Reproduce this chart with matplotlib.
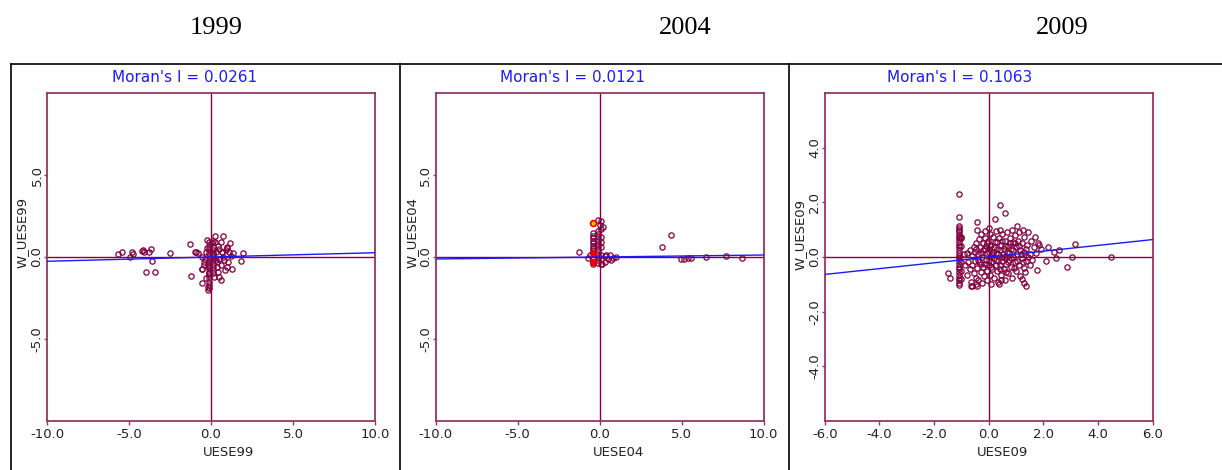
import matplotlib.pyplot as plt
from matplotlib.lines import Line2D

plt.rcParams['axes.unicode_minus'] = False

years = ['1999', '2004', '2009']
moran_i = [0.0261, 0.0121, 0.1063]
x_names = ['UESE99', 'UESE04', 'UESE09']
y_names = ['W_UESE99', 'W_UESE04', 'W_UESE09']

# 1999 standardized values and their spatial lags
x99 = [-5.65, -5.41, -4.94, -4.80, -4.78, -4.23, -4.13, -4.07, -3.76, -3.68,
       -3.60, -3.98, -3.43, -2.48, -1.28, -1.22, -0.93, -0.57, -0.57, -0.98,
       -0.77, -0.57, -0.57, -0.43, -0.30, -0.26, -0.26, -0.16, -0.16, -0.10,
       -0.10, 0.04, 0.14, 0.24, 0.30, 0.39, 0.45, 0.51, 0.59, 0.71,
       0.75, 0.85, 0.96, 1.06, 1.16, 1.26, 1.36, 1.81, 1.97, 0.96,
       0.65, -0.06,
       -0.10, -0.10, -0.10, -0.10, -0.10, -0.10, -0.10, -0.10, -0.10, -0.10,
       -0.10, -0.10, -0.10, -0.10, -0.10,
       0.10, 0.10, 0.10, 0.10, 0.10, 0.10, 0.10, 0.10, 0.10,
       0.30, 0.35, 0.50, 0.50, 0.60, 0.70, 0.80, 0.90, 0.40, 0.20,
       -0.30, -0.35, -0.40, 0.60, 1.10, 1.20, 1.00, 0.25, -0.20, 0.15]
y99 = [0.16, 0.32, -0.02, 0.32, 0.16, 0.37, 0.43, 0.28, 0.28, 0.49,
       -0.24, -0.89, -0.89, 0.22, 0.79, -1.14, 0.32, -0.73, -1.61, 0.28,
       0.22, 0.02, -0.73, -0.28, -1.30, 0.53, 1.04, -1.81, -2.00, -0.59,
       -1.00, 0.83, 0.22, 1.28, -0.18, -0.59, 0.67, -1.20, -1.40, 1.28,
       0.02, -0.79, 0.63, -0.28, 0.83, -0.75, 0.22, -0.24, 0.22, -0.59,
       0.33, -0.08,
       0.90, 0.70, 0.50, 0.30, 0.10, -0.10, -0.30, -0.50, -0.70, -0.90,
       -1.10, -1.30, -1.50, -1.70, -1.90,
       0.60, 0.40, 0.20, 0.00, -0.20, -0.40, -0.60, -0.80, -1.00,
       0.30, -0.30, 0.50, -0.10, -0.50, 0.30, -0.20, 0.40, -0.90, -1.20,
       0.30, -0.10, -0.50, 0.90, 0.30, 0.05, 0.55, 0.90, -0.50, 1.00]

# 2004
x04 = [-0.10, 0.10, 0.20, 0.00,
       -0.41, -0.41, -0.41, -0.41, -0.41, -0.41, -0.41, -0.41, -0.41, -0.41,
       -0.10, -0.10, -0.10, -0.10, -0.10, -0.10, -0.10, -0.10, -0.10, -0.10,
       -0.10,
       0.10, 0.10, 0.10, 0.10, 0.10, 0.10, 0.10,
       0.30, 0.41, 0.50, 0.60, 0.71, 0.80, 1.02, 0.30, -0.60, -0.70, 0.15,
       -1.28, 3.82, 4.37, 4.94, 5.14, 5.39, 5.59, 6.50, 7.72, 8.68]
y04 = [2.26, 2.21, 1.85, 1.95,
       1.44, 1.30, 1.15, 1.00, 0.85, 0.70, 0.55, 0.40, -0.10, -0.40,
       1.60, 1.40, 1.20, 1.00, 0.80, 0.60, 0.40, 0.20, 0.00, -0.20,
       -0.35,
       1.70, 1.20, 0.90, 0.60, 0.10, -0.15, -0.40,
       0.05, 0.12, -0.10, 0.15, -0.18, -0.05, 0.02, -0.28, 0.10, -0.05, -0.45,
       0.32, 0.63, 1.34, -0.14, -0.14, -0.08, -0.08, 0.02, 0.08, -0.08]
# selected regions in 2004
sel04_x = [-0.41, -0.41, -0.41]
sel04_y = [2.05, 0.22, -0.28]

# 2009
x09 = [-1.10] * 26 + [-1.00] * 6 + [
    -0.90, -0.85, -0.80, -0.80, -0.75, -0.70, -0.70, -0.65, -0.60, -0.60,
    -0.60, -0.55, -0.55,
    -0.50, -0.50, -0.48, -0.45, -0.45, -0.42, -0.40, -0.38, -0.35, -0.35,
    -0.32, -0.30, -0.28, -0.25, -0.25, -0.22, -0.20, -0.20, -0.18,
    -0.15, -0.12, -0.10, -0.10, -0.08, -0.05, -0.05, -0.02, 0.00, 0.00,
    0.02, 0.03, 0.05, 0.05, 0.08, 0.10, 0.10, 0.12, 0.15, 0.15,
    0.20, 0.22, 0.25, 0.28, 0.30, 0.30, 0.33, 0.35, 0.38, 0.40,
    0.42, 0.45, 0.45, 0.48, 0.50, 0.50,
    0.55, 0.55, 0.60, 0.60, 0.62, 0.65, 0.68, 0.70, 0.70, 0.75,
    0.75, 0.78, 0.80, 0.82, 0.85, 0.85, 0.88, 0.90,
    0.95, 0.95, 1.00, 1.00, 1.02, 1.05, 1.08, 1.10, 1.12, 1.15,
    1.15, 1.20, 1.22, 1.25, 1.28, 1.30, 1.30,
    1.35, 1.40, 1.45, 1.50, 1.50, 1.55, 1.60, 1.65, 1.70, 1.72,
    1.80, 1.85, 1.90,
    -0.45, -0.40, -0.30, -0.28, -0.15, -0.12, -0.05, 0.00, 0.00, 0.05,
    0.08, 0.12, 0.18, 0.20, 0.25, 0.28, 0.32, 0.35, 0.40, 0.42,
    0.48, 0.52, 0.58, 0.60, 0.65, 0.68, 0.72, 0.78, 0.82, 0.88,
    0.92, 0.98, 1.05, 1.10, 1.18, 1.25, 1.35, 1.42,
    0.42, 0.61, 0.24, -0.44, -0.44, 3.14, 3.04, 4.48, 2.87, 2.59,
    2.40, 2.47, 2.10, 1.76, 2.16, -1.50, -1.40, -0.65, -0.44, 0.37,
    0.45, 1.20, 1.28, 1.35, 1.31]
y09 = [1.13, 1.05, 0.98, 0.90, 0.82, 0.73, 0.65, 0.55, 0.45, 0.35,
       0.25, 0.15, 0.05, -0.05, -0.15, -0.25, -0.35, -0.45, -0.55, -0.65,
       -0.75, -0.85, -0.95, -1.02, 1.48, 2.29,
       0.75, 0.70, 0.40, -0.20, -0.50, -0.80,
       0.10, -0.30, 0.15, -0.65, -0.20, 0.25, -0.45, -0.90, 0.05, -0.30,
       -1.05, 0.35, -0.60,
       0.20, -0.15, -0.75, 0.50, -1.00, -0.40, 0.10, -0.85, 0.65, -0.20,
       0.35, -0.55, 0.85, 0.00, -0.95, 0.50, -0.35, 0.25, -0.70,
       0.95, 0.70, 0.40, -0.10, -0.50, 0.15, -0.85, 0.60, -0.30, 1.05,
       0.30, -0.65, 0.00, 0.85, -1.00, 0.45, -0.20, -0.45, 0.20, 0.75,
       -0.75, 0.55, -0.10, 0.95, 0.30, -0.50, -0.90, 0.10, 0.70, -0.30,
       1.00, 0.45, -0.65, 0.00, -0.15, 0.85,
       0.30, -0.45, 0.60, -0.85, 0.05, -0.25, 0.90, 0.40, -0.60, 0.15,
       -0.10, 0.70, -0.35, 0.30, 1.00, -0.75, 0.55, 0.00,
       -0.20, 0.80, 0.35, -0.50, 1.15, 0.10, 0.60, -0.30, 0.90, 0.25,
       -0.70, -0.05, 0.50, 1.00, -0.40, 0.20, 0.75,
       -0.15, 0.45, 0.90, 0.10, -0.30, 0.60, -0.10, 0.35, 0.75, 0.15,
       0.50, 0.45, 0.30,
       0.30, -0.10, 0.15, -0.25, 0.30, -0.25, 0.50, 0.20, -0.10, 0.40,
       -0.35, 0.10, -0.05, 0.35, 0.15, -0.30, 0.55, -0.15, 0.25, -0.45,
       0.60, 0.12, -0.05, 0.40, -0.55, 0.20, -0.20, 0.50, -0.05, 0.25,
       -0.40, 0.50, -0.15, 0.40, 0.10, -0.20, 0.30, 0.00,
       1.90, 1.62, 1.38, 1.29, 1.00, 0.46, 0.00, 0.00, -0.38, 0.26,
       0.20, -0.05, -0.15, -0.48, 0.38, -0.60, -0.76, -1.05, -1.05, -1.00,
       -0.83, -0.80, -0.95, -1.05, -0.56]

point_color = '#800040'
frame_color = '#993366'
line_color = '#1a1aff'

fig = plt.figure(figsize=(12.22, 4.70), dpi=100)
W, H = 1222.0, 470.0

panels = [
    # data, left edge px, axis limit, tick step, ylabel pos, xlabel pos, text x
    (x99, y99, 47.0, 10, 5, (22, 232), 229, 185),
    (x04, y04, 435.7, 10, 5, (412, 232), 618, 573),
    (x09, y09, 824.7, 6, 2, (800, 235), 1003, 960),
]

for i, (xs, ys, left, lim, step, ylab, xlab, tx) in enumerate(panels):
    ax = fig.add_axes([left / W, (H - 421) / H, 328 / W, 328 / H])
    ax.set_xlim(-lim, lim)
    ax.set_ylim(-lim, lim)

    ax.axhline(0, color=point_color, lw=1.0, zorder=1)
    ax.axvline(0, color=point_color, lw=1.0, zorder=1)

    ax.plot(xs, ys, 'o', ms=3.8, mfc='none', mec=point_color, mew=0.9, zorder=2)
    if i == 1:
        ax.plot(sel04_x[1:], sel04_y[1:], 'o', ms=4.2, mfc='#ff0000',
                mec='#e00000', mew=1.0, zorder=3)
        ax.plot(sel04_x[:1], sel04_y[:1], 'o', ms=4.2, mfc='#ffc000',
                mec='#ff0000', mew=1.2, zorder=3)

    slope = moran_i[i]
    ax.plot([-lim, lim], [-lim * slope, lim * slope], color=line_color,
            lw=1.0, zorder=4)

    xt = [v for v in range(-lim, lim + 1, step)]
    yt = [v for v in xt if abs(v) != lim]
    ax.set_xticks(xt)
    ax.set_yticks(yt)
    ax.set_xticklabels(['%.1f' % v for v in xt])
    ax.set_yticklabels(['%.1f' % v for v in yt], rotation=90, va='center')
    ax.tick_params(axis='both', colors='#222222', labelsize=9.5, length=3,
                   width=1, color=frame_color, pad=2)
    ax.tick_params(axis='y', length=2, pad=0.5)
    for s in ax.spines.values():
        s.set_color(frame_color)
        s.set_linewidth(1.3)

    fig.text(ylab[0] / W, 1 - ylab[1] / H, y_names[i], rotation=90,
             ha='center', va='center', fontsize=9.5, color='#222222')
    fig.text(xlab / W, 1 - 453 / H, x_names[i], ha='center', va='center',
             fontsize=9.5, color='#222222')
    fig.text(tx / W, 1 - 78 / H, "Moran's I = %.4f" % moran_i[i],
             ha='center', va='center', fontsize=11, color=line_color)

# year headings
for name, cx in zip(years, [216, 685, 1062]):
    fig.text(cx / W, 1 - 28 / H, name, ha='center', va='center',
             fontsize=19, family='Liberation Serif')

# panel frames
frame = dict(color='black', lw=1.2, transform=fig.transFigure)
fig.add_artist(Line2D([11 / W, 1.0], [1 - 64 / H, 1 - 64 / H], **frame))
for px in [11, 400, 789]:
    fig.add_artist(Line2D([px / W, px / W], [0, 1 - 64 / H], **frame))

fig.savefig('out.png', dpi=100)
